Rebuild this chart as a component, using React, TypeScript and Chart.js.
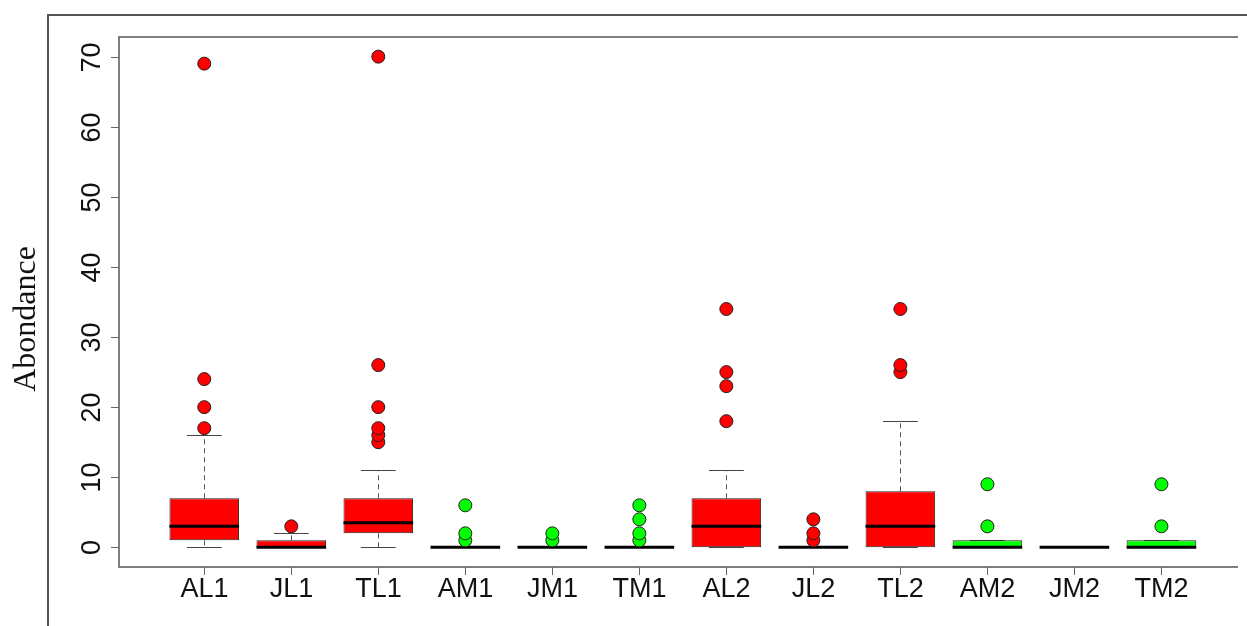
import React, { useEffect, useRef } from 'react';
import { Chart, registerables } from 'chart.js';

Chart.register(...registerables);

// ---- data ----
const categories = ['AL1', 'JL1', 'TL1', 'AM1', 'JM1', 'TM1', 'AL2', 'JL2', 'TL2', 'AM2', 'JM2', 'TM2'];
const q1 = [1, 0, 2, 0, 0, 0, 0, 0, 0, 0, 0, 0];
const median = [3, 0, 3.5, 0, 0, 0, 3, 0, 3, 0, 0, 0];
const q3 = [7, 1, 7, 0, 0, 0, 7, 0, 8, 1, 0, 1];
const whiskerLow = [0, 0, 0, 0, 0, 0, 0, 0, 0, 0, 0, 0];
const whiskerHigh = [16, 2, 11, 0, 0, 0, 11, 0, 18, 1, 0, 1];
const outliers = [
  [17, 20, 24, 69],
  [3],
  [15, 16, 17, 20, 26, 70],
  [1, 2, 6],
  [1, 2],
  [1, 2, 4, 6],
  [18, 23, 25, 34],
  [1, 2, 4],
  [25, 26, 34],
  [3, 9],
  [],
  [3, 9],
];
const yTicks = [0, 10, 20, 30, 40, 50, 60, 70];
const yTitle = 'Abondance';

// ---- styles ----
const RED = '#FF0000';
const GREEN = '#00FF00';
const colorFor = (i: number) => (categories[i].charAt(1) === 'M' ? GREEN : RED);

export default function App() {
  const ref = useRef<HTMLCanvasElement>(null);

  useEffect(() => {
    const canvas = ref.current;
    if (!canvas) return;

    const boxData = categories.map((_, i) => ({ x: i + 1, y: [q1[i], q3[i]] }));
    const outlierData: { x: number; y: number }[] = [];
    outliers.forEach((arr, i) => arr.forEach((v) => outlierData.push({ x: i + 1, y: v })));

    const parts = {
      id: 'boxParts',
      beforeDraw(chart: any) {
        const ctx = chart.ctx;
        ctx.save();
        ctx.fillStyle = '#ffffff';
        ctx.fillRect(0, 0, chart.width, chart.height);
        // outer frame
        ctx.strokeStyle = '#555555';
        ctx.lineWidth = 2;
        ctx.beginPath();
        ctx.moveTo(48, 626);
        ctx.lineTo(48, 15);
        ctx.lineTo(1247, 15);
        ctx.stroke();
        ctx.restore();
      },
      beforeDatasetsDraw(chart: any) {
        const ctx = chart.ctx;
        const xs = chart.scales.x;
        const ys = chart.scales.y;
        ctx.save();
        categories.forEach((_, i) => {
          const cx = Math.round(xs.getPixelForValue(i + 1)) + 0.5;
          const capL = xs.getPixelForValue(i + 1 - 0.2);
          const capR = xs.getPixelForValue(i + 1 + 0.2);
          ctx.strokeStyle = '#555555';
          ctx.lineWidth = 1;
          ctx.setLineDash([5, 4]);
          ctx.beginPath();
          ctx.moveTo(cx, ys.getPixelForValue(q3[i]));
          ctx.lineTo(cx, ys.getPixelForValue(whiskerHigh[i]));
          ctx.moveTo(cx, ys.getPixelForValue(q1[i]));
          ctx.lineTo(cx, ys.getPixelForValue(whiskerLow[i]));
          ctx.stroke();
          ctx.setLineDash([]);
          ctx.strokeStyle = '#444444';
          ctx.beginPath();
          const yh = Math.round(ys.getPixelForValue(whiskerHigh[i])) + 0.5;
          const yl = Math.round(ys.getPixelForValue(whiskerLow[i])) + 0.5;
          ctx.moveTo(capL, yh);
          ctx.lineTo(capR, yh);
          ctx.moveTo(capL, yl);
          ctx.lineTo(capR, yl);
          ctx.stroke();
        });
        ctx.restore();
      },
      afterDatasetDraw(chart: any, args: any) {
        if (args.index !== 0) return;
        const ctx = chart.ctx;
        const xs = chart.scales.x;
        const ys = chart.scales.y;
        ctx.save();
        ctx.strokeStyle = '#000000';
        ctx.lineWidth = 3;
        ctx.lineCap = 'butt';
        categories.forEach((_, i) => {
          const y = ys.getPixelForValue(median[i]);
          ctx.beginPath();
          ctx.moveTo(xs.getPixelForValue(i + 1 - 0.4), y);
          ctx.lineTo(xs.getPixelForValue(i + 1 + 0.4), y);
          ctx.stroke();
        });
        ctx.restore();
      },
      afterDraw(chart: any) {
        const ctx = chart.ctx;
        const xs = chart.scales.x;
        const ys = chart.scales.y;
        const a = chart.chartArea;
        ctx.save();
        // plot box (left, top, bottom)
        ctx.strokeStyle = '#555555';
        ctx.lineWidth = 1.5;
        ctx.beginPath();
        ctx.moveTo(a.right, a.top);
        ctx.lineTo(a.left, a.top);
        ctx.lineTo(a.left, a.bottom);
        ctx.lineTo(a.right, a.bottom);
        ctx.stroke();
        // y ticks
        ctx.lineWidth = 1;
        ctx.strokeStyle = '#666666';
        ctx.fillStyle = '#111111';
        ctx.font = '27px "Liberation Sans", Arial, sans-serif';
        yTicks.forEach((t) => {
          const py = Math.round(ys.getPixelForValue(t)) + 0.5;
          ctx.beginPath();
          ctx.moveTo(a.left - 8, py);
          ctx.lineTo(a.left, py);
          ctx.stroke();
          ctx.save();
          ctx.translate(99.5, py);
          ctx.rotate(-Math.PI / 2);
          ctx.textAlign = 'center';
          ctx.textBaseline = 'alphabetic';
          ctx.fillText(String(t), 0, 0);
          ctx.restore();
        });
        // x ticks
        categories.forEach((c, i) => {
          const px = Math.round(xs.getPixelForValue(i + 1)) + 0.5;
          ctx.beginPath();
          ctx.moveTo(px, a.bottom);
          ctx.lineTo(px, a.bottom + 8);
          ctx.stroke();
          ctx.textAlign = 'center';
          ctx.textBaseline = 'alphabetic';
          ctx.fillText(c, px, 597);
        });
        // y title
        ctx.save();
        ctx.translate(35, 319);
        ctx.rotate(-Math.PI / 2);
        ctx.font = '32px "Liberation Serif", "Times New Roman", serif';
        ctx.textAlign = 'center';
        ctx.textBaseline = 'alphabetic';
        ctx.fillStyle = '#111111';
        ctx.fillText(yTitle, 0, 0);
        ctx.restore();
        ctx.restore();
      },
    };

    const chart = new Chart(canvas, {
      type: 'bar',
      data: {
        datasets: [
          {
            type: 'bar',
            data: boxData as any,
            backgroundColor: categories.map((_, i) => colorFor(i)),
            borderColor: '#222222',
            borderWidth: 1,
            borderSkipped: false,
            barPercentage: 0.8,
            categoryPercentage: 1,
            order: 2,
          } as any,
          {
            type: 'scatter',
            data: outlierData as any,
            pointRadius: 6.5,
            pointHoverRadius: 6.5,
            pointBackgroundColor: (ctx: any) => colorFor((ctx.raw?.x ?? 1) - 1),
            pointBorderColor: '#222222',
            pointBorderWidth: 1,
            clip: false,
            order: 1,
          } as any,
        ],
      },
      options: {
        animation: false,
        responsive: false,
        devicePixelRatio: 1,
        events: [],
        layout: { padding: { left: 119, right: 9, top: 37, bottom: 59 } },
        plugins: { legend: { display: false }, tooltip: { enabled: false } },
        scales: {
          x: {
            type: 'linear',
            min: 0.02,
            max: 12.88,
            offset: false,
            display: false,
            ticks: { stepSize: 1, includeBounds: false },
          },
          y: { type: 'linear', min: -2.8, max: 72.8, display: false },
        },
      } as any,
      plugins: [parts],
    });

    return () => chart.destroy();
  }, []);

  return (
    <div style={{ position: 'absolute', left: 0, top: 0, width: 1247, height: 626 }}>
      <canvas ref={ref} width={1247} height={626} style={{ display: 'block' }} />
    </div>
  );
}
